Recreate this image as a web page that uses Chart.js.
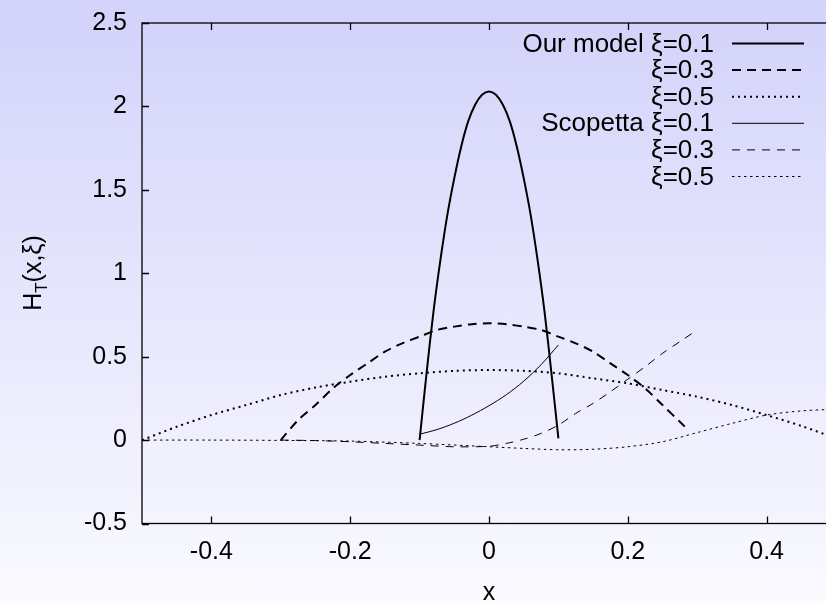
<!DOCTYPE html>
<html>
<head>
<meta charset="utf-8">
<script src="https://cdn.jsdelivr.net/npm/chart.js@4.4.1/dist/chart.umd.min.js"></script>
<style>
  html, body {
    margin: 0;
    padding: 0;
    width: 826px;
    height: 601px;
    overflow: hidden;
    background: linear-gradient(to bottom, #d2d2fb 0%, #e6e6fd 50%, #fafaff 100%);
  }
  #wrap { width: 860px; height: 601px; }
</style>
</head>
<body>
<div id="wrap"><canvas id="chart" width="860" height="601"></canvas></div>
<script>
// tick labels
const xTicks = [-0.4, -0.2, 0, 0.2, 0.4];
const xTickLabels = ["-0.4", "-0.2", "0", "0.2", "0.4"];
const yTicks = [-0.5, 0, 0.5, 1, 1.5, 2, 2.5];
const yTickLabels = ["-0.5", "0", "0.5", "1", "1.5", "2", "2.5"];

const legendLabels = ["Our model ξ=0.1", "ξ=0.3", "ξ=0.5", "Scopetta ξ=0.1", "ξ=0.3", "ξ=0.5"];

// Our model
const ourX1 = [-0.1, -0.09, -0.08, -0.07, -0.06, -0.05, -0.04, -0.03, -0.02, -0.01, 0,
  0.01, 0.02, 0.03, 0.04, 0.05, 0.06, 0.07, 0.08, 0.09, 0.1];
const ourY1 = [0.00, 0.40, 0.77, 1.08, 1.35, 1.57, 1.76, 1.91, 2.01, 2.07, 2.09,
  2.07, 2.01, 1.91, 1.76, 1.57, 1.35, 1.08, 0.77, 0.40, 0.01];

const ourX3 = [-0.3, -0.275, -0.25, -0.225, -0.2, -0.175, -0.15, -0.125, -0.1, -0.075, -0.05, -0.025, 0,
  0.025, 0.05, 0.075, 0.1, 0.125, 0.15, 0.175, 0.2, 0.225, 0.25, 0.275, 0.287];
const ourY3 = [0.00, 0.12, 0.21, 0.31, 0.39, 0.46, 0.53, 0.58, 0.62, 0.66, 0.68, 0.695, 0.70,
  0.695, 0.68, 0.66, 0.62, 0.58, 0.53, 0.46, 0.39, 0.31, 0.21, 0.11, 0.06];

const ourX5 = [-0.5, -0.45, -0.4, -0.35, -0.3, -0.25, -0.2, -0.15, -0.1, -0.05, 0,
  0.05, 0.1, 0.15, 0.2, 0.25, 0.3, 0.35, 0.4, 0.45, 0.5];
const ourY5 = [0.00, 0.08, 0.15, 0.21, 0.27, 0.315, 0.35, 0.38, 0.40, 0.415, 0.42,
  0.415, 0.40, 0.37, 0.34, 0.30, 0.26, 0.21, 0.15, 0.085, 0.01];

// Scopetta
const scoX1 = [-0.1, -0.075, -0.05, -0.025, 0, 0.025, 0.05, 0.075, 0.1];
const scoY1 = [0.035, 0.063, 0.101, 0.149, 0.206, 0.272, 0.353, 0.452, 0.57];

const scoX3 = [-0.3, -0.25, -0.2, -0.15, -0.1, -0.05, 0, 0.025, 0.05, 0.075, 0.1,
  0.125, 0.15, 0.175, 0.2, 0.225, 0.25, 0.275, 0.3];
const scoY3 = [0.00, -0.003, -0.01, -0.02, -0.03, -0.04, -0.037, -0.02, 0.005, 0.04, 0.09,
  0.16, 0.22, 0.29, 0.365, 0.44, 0.52, 0.59, 0.66];

const scoX5 = [-0.5, -0.4, -0.3, -0.2, -0.1, 0, 0.05, 0.1, 0.15, 0.2, 0.25, 0.3, 0.35, 0.4, 0.45, 0.5];
const scoY5 = [0.00, 0.00, -0.002, -0.006, -0.02, -0.04, -0.05, -0.058, -0.055, -0.04, -0.01, 0.045, 0.10, 0.15, 0.175, 0.185];

const FONT = '"Liberation Sans", Arial, sans-serif';

function pts(xs, ys) {
  return xs.map((x, i) => ({ x: x, y: ys[i] }));
}

function line(label, xs, ys, width, dash) {
  return {
    label: label,
    data: pts(xs, ys),
    showLine: true,
    borderColor: "#000",
    borderWidth: width,
    borderDash: dash,
    pointRadius: 0,
    tension: 0.3,
    fill: false,
  };
}

const datasets = [
  line(legendLabels[0], ourX1, ourY1, 2, []),
  line(legendLabels[1], ourX3, ourY3, 2, [9, 6]),
  line(legendLabels[2], ourX5, ourY5, 2, [2, 4]),
  line(legendLabels[3], scoX1, scoY1, 1, []),
  line(legendLabels[4], scoX3, scoY3, 1, [8, 7]),
  line(legendLabels[5], scoX5, scoY5, 1, [2.5, 3.5]),
];

// frame, inward ticks, legend and axis titles
const framePlugin = {
  id: "frame",
  afterDatasetsDraw(chart) {
    const { ctx, chartArea: a, scales } = chart;
    const x = scales.x, y = scales.y;
    ctx.save();
    ctx.strokeStyle = "#000";
    ctx.lineWidth = 1.3;
    ctx.setLineDash([]);
    ctx.strokeRect(a.left, a.top, a.right - a.left, a.bottom - a.top);

    const len = 7;
    ctx.beginPath();
    xTicks.forEach((v) => {
      const px = Math.round(x.getPixelForValue(v)) + 0.5;
      ctx.moveTo(px, a.bottom);
      ctx.lineTo(px, a.bottom - len);
      ctx.moveTo(px, a.top);
      ctx.lineTo(px, a.top + len);
    });
    yTicks.forEach((v) => {
      const py = Math.round(y.getPixelForValue(v)) + 0.5;
      ctx.moveTo(a.left, py);
      ctx.lineTo(a.left + len, py);
      ctx.moveTo(a.right, py);
      ctx.lineTo(a.right - len, py);
    });
    ctx.stroke();

    // legend
    ctx.font = "26px " + FONT;
    ctx.fillStyle = "#000";
    ctx.textAlign = "right";
    ctx.textBaseline = "middle";
    chart.data.datasets.forEach((ds, i) => {
      const ly = a.top + 20.5 + i * 26.6;
      ctx.fillText(ds.label, a.left + 572, ly + 1);
      ctx.beginPath();
      ctx.lineWidth = ds.borderWidth;
      ctx.setLineDash(ds.borderDash);
      ctx.moveTo(a.left + 590, ly);
      ctx.lineTo(a.left + 662, ly);
      ctx.stroke();
    });
    ctx.setLineDash([]);

    // x title
    ctx.font = "25px " + FONT;
    ctx.textAlign = "center";
    ctx.textBaseline = "alphabetic";
    ctx.fillText("x", x.getPixelForValue(0), 600);

    // y title with subscript
    ctx.translate(32, 273);
    ctx.rotate(-Math.PI / 2);
    ctx.textAlign = "left";
    const big = "25px " + FONT, small = "17px " + FONT;
    ctx.font = big;
    const wH = ctx.measureText("H").width;
    const wRest = ctx.measureText("(x,ξ)").width;
    ctx.font = small;
    const wT = ctx.measureText("T").width;
    let sx = -(wH + wT + wRest) / 2;
    ctx.font = big;
    ctx.fillText("H", sx, 9);
    sx += wH;
    ctx.font = small;
    ctx.fillText("T", sx, 15);
    sx += wT;
    ctx.font = big;
    ctx.fillText("(x,ξ)", sx, 9);
    ctx.restore();
  },
};

new Chart(document.getElementById("chart"), {
  type: "scatter",
  data: { datasets: datasets },
  options: {
    responsive: false,
    animation: false,
    devicePixelRatio: 1,
    layout: { padding: { left: 0, right: 24, top: 23, bottom: 0 } },
    plugins: { legend: { display: false }, tooltip: { enabled: false } },
    scales: {
      x: {
        type: "linear",
        min: -0.5,
        max: 0.5,
        afterBuildTicks: (s) => { s.ticks = xTicks.map((v) => ({ value: v })); },
        afterFit: (s) => { s.height = 77.5; s.paddingLeft = 0; s.paddingRight = 0; },
        grid: { display: false, drawTicks: false },
        border: { display: false },
        ticks: {
          color: "#000",
          font: { family: FONT, size: 25 },
          padding: 14,
          maxRotation: 0,
          callback: (v, i) => xTickLabels[i],
        },
      },
      y: {
        type: "linear",
        min: -0.5,
        max: 2.5,
        afterBuildTicks: (s) => { s.ticks = yTicks.map((v) => ({ value: v })); },
        afterFit: (s) => { s.width = 142; s.paddingTop = 0; s.paddingBottom = 0; },
        grid: { display: false, drawTicks: false },
        border: { display: false },
        ticks: {
          color: "#000",
          font: { family: FONT, size: 25 },
          padding: 15,
          callback: (v, i) => yTickLabels[i],
        },
      },
    },
  },
  plugins: [framePlugin],
});
</script>
</body>
</html>
